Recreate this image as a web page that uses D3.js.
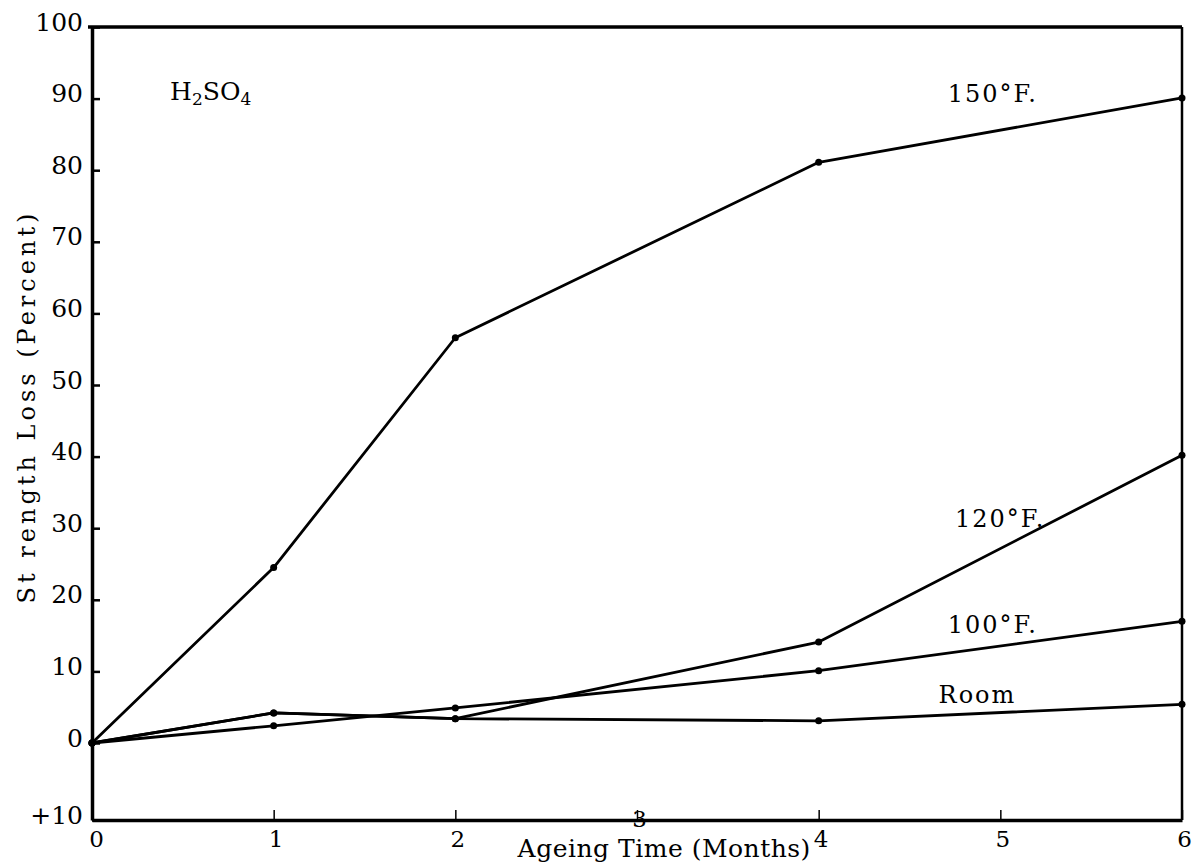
<!DOCTYPE html>
<html>
<head>
<meta charset="utf-8">
<script src="https://cdn.jsdelivr.net/npm/d3@7"></script>
<style>
  body { margin: 0; background: #fff; }
  svg text { font-family: "DejaVu Serif", serif; fill: #000; }
</style>
</head>
<body>
<div id="chart"></div>
<script>
// values
var months = [0, 1, 2, 4, 6];
var loss150 = [0, 24.5, 56.6, 81.1, 90.1];
var loss120 = [0, 4.2, 3.4, 14.1, 40.2];
var loss100 = [0, 2.4, 4.9, 10.1, 17.0];
var lossRoom = [0, 4.2, 3.4, 3.1, 5.4];
var seriesNames = ["150\u00b0F.", "120\u00b0F.", "100\u00b0F.", "Room"];
var xTicks = [0, 1, 2, 3, 4, 5, 6];
var yTicks = [-10, 0, 10, 20, 30, 40, 50, 60, 70, 80, 90, 100];
var yTickLabels = ["+10", "0", "10", "20", "30", "40", "50", "60", "70", "80", "90", "100"];

var W = 1198, H = 867;
var margin = {top: 27, right: 16, bottom: 47, left: 92},
    width = W - margin.left - margin.right,
    height = H - margin.top - margin.bottom;

var svg = d3.select("#chart").append("svg")
    .attr("width", W)
    .attr("height", H)
  .append("g")
    .attr("transform", "translate(" + margin.left + "," + margin.top + ")");

// setup x
var xScale = d3.scaleLinear().domain([0, 6]).range([0, width]);
// setup y (hand drawn axis: the gap below zero is a bit wider)
var yScale = d3.scaleLinear().domain([-10, 0, 100]).range([height, height - 77, 0]);

var xAxis = d3.axisBottom(xScale)
    .tickValues(xTicks)
    .tickFormat(d3.format("d"))
    .tickSizeInner(-10)
    .tickSizeOuter(0)
    .tickPadding(12);

var yAxis = d3.axisLeft(yScale)
    .tickValues(yTicks)
    .tickFormat(function(d, i) { return yTickLabels[i]; })
    .tickSizeInner(-8)
    .tickSizeOuter(0)
    .tickPadding(9);

// x-axis
var gx = svg.append("g")
    .attr("class", "x axis")
    .attr("transform", "translate(0," + height + ")")
    .call(xAxis);
gx.select(".domain").attr("stroke-width", 3.5);
gx.selectAll(".tick line").attr("stroke-width", 1.5);
gx.selectAll(".tick text")
    .attr("font-size", 23)
    .attr("font-family", "DejaVu Serif")
    .attr("dx", function(d) { return d == 0 ? 4 : 2; })
    .attr("y", function(d) { return d == 3 ? -9 : 11; });

// y-axis
var gy = svg.append("g")
    .attr("class", "y axis")
    .call(yAxis);
gy.select(".domain").attr("stroke-width", 3.5);
gy.selectAll(".tick line").attr("stroke-width", 2.5);
gy.selectAll(".tick text")
    .attr("font-size", 25)
    .attr("font-family", "DejaVu Serif")
    .attr("dy", "0.12em");

// top and right border
svg.append("line")
    .attr("x1", xScale(0) - 4).attr("x2", xScale(6))
    .attr("y1", yScale(100)).attr("y2", yScale(100))
    .attr("stroke", "#000").attr("stroke-width", 3.5);
svg.append("line")
    .attr("x1", xScale(6)).attr("x2", xScale(6))
    .attr("y1", yScale(100)).attr("y2", yScale(-10))
    .attr("stroke", "#000").attr("stroke-width", 2.5);

// axis titles
svg.append("text")
    .attr("x", xScale(3.15))
    .attr("y", height + 37)
    .attr("font-size", 25)
    .attr("letter-spacing", 0.5)
    .style("text-anchor", "middle")
    .text("Ageing Time (Months)");

svg.append("text")
    .attr("transform", "translate(" + (-57) + "," + yScale(47) + ") rotate(-90)")
    .attr("font-size", 24)
    .attr("letter-spacing", 4)
    .style("text-anchor", "middle")
    .text("St rength Loss (Percent)");

// curves
var series = [loss150, loss120, loss100, lossRoom];
var line = d3.line()
    .x(function(d) { return xScale(d[0]); })
    .y(function(d) { return yScale(d[1]); });

series.forEach(function(vals) {
  var pts = months.map(function(m, i) { return [m, vals[i]]; });
  svg.append("path")
      .datum(pts)
      .attr("fill", "none")
      .attr("stroke", "#000")
      .attr("stroke-width", 2.8)
      .attr("stroke-linejoin", "round")
      .attr("d", line);
  svg.selectAll(null)
      .data(pts)
    .enter().append("circle")
      .attr("r", 3.5)
      .attr("cx", function(d) { return xScale(d[0]); })
      .attr("cy", function(d) { return yScale(d[1]); })
      .attr("fill", "#000");
});

// curve labels
var labelAt = [[4.71, 89.5], [4.75, 30.2], [4.71, 15.4], [4.66, 5.6]];
seriesNames.forEach(function(name, i) {
  svg.append("text")
      .attr("x", xScale(labelAt[i][0]))
      .attr("y", yScale(labelAt[i][1]))
      .attr("font-size", 24)
      .attr("letter-spacing", 2)
      .text(name);
});

// acid label
var acid = svg.append("text")
    .attr("x", xScale(0.43))
    .attr("y", yScale(89.8))
    .attr("font-size", 25);
acid.append("tspan").text("H");
acid.append("tspan").attr("font-size", 17).attr("dy", 5).text("2");
acid.append("tspan").attr("dy", -5).text("SO");
acid.append("tspan").attr("font-size", 17).attr("dy", 5).text("4");
</script>
</body>
</html>
